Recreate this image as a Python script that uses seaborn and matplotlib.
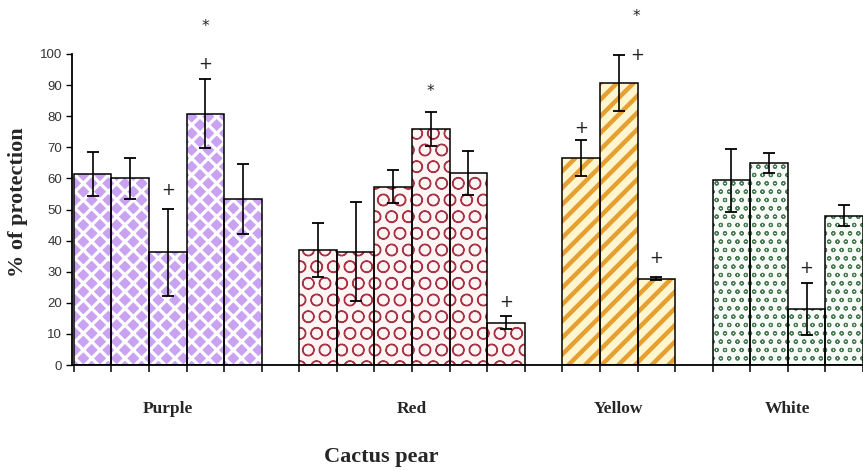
import matplotlib
matplotlib.use("Agg")
import matplotlib.pyplot as plt
import seaborn as sns
import numpy as np
import pandas as pd

# ---- data ----
groups = ["Purple", "Red", "Yellow", "White"]
purple_vals = [61.4, 60.0, 36.2, 80.8, 53.4]
purple_err = [7.2, 6.7, 14.0, 11.1, 11.2]
red_vals = [37.0, 36.4, 57.3, 75.9, 61.8, 13.6]
red_err = [8.8, 15.9, 5.3, 5.4, 7.0, 2.0]
yellow_vals = [66.5, 90.7, 27.8]
yellow_err = [5.7, 9.0, 0.4]
white_vals = [59.4, 65.0, 18.0, 48.0]
white_err = [10.2, 3.2, 8.4, 3.3]
yticks = [0, 10, 20, 30, 40, 50, 60, 70, 80, 90, 100]
# significance marks: (group, bar index, symbol, y, x-offset in bar widths)
marks = [
    ("Purple", 2, "+", 56.3, 0.0),
    ("Purple", 3, "+", 96.8, 0.0),
    ("Purple", 3, "*", 108.7, 0.0),
    ("Red", 3, "*", 87.9, 0.0),
    ("Red", 5, "+", 20.4, 0.0),
    ("Yellow", 0, "+", 76.3, 0.0),
    ("Yellow", 1, "+", 99.7, 0.48),
    ("Yellow", 1, "*", 112.0, 0.48),
    ("Yellow", 2, "+", 34.5, 0.0),
    ("White", 2, "+", 31.1, 0.0),
]

vals_by_group = {"Purple": purple_vals, "Red": red_vals,
                 "Yellow": yellow_vals, "White": white_vals}
errs_by_group = {"Purple": purple_err, "Red": red_err,
                 "Yellow": yellow_err, "White": white_err}

# positions: consecutive bars, one empty slot between groups
rows = []
start = 0
group_start = {}
for g in groups:
    group_start[g] = start
    for i, (v, e) in enumerate(zip(vals_by_group[g], errs_by_group[g])):
        rows.append({"pos": start + i, "value": v, "err": e, "group": g})
    start += len(vals_by_group[g]) + 1
df = pd.DataFrame(rows)

styles = {
    "Purple": dict(face="#C9A2F2", hatch="xx", hcol="white", hlw=2.3),
    "Red": dict(face="#FFF5F5", hatch="O", hcol="#A83345", hlw=0.9),
    "Yellow": dict(face="#FFF6CF", hatch="//", hcol="#E6A032", hlw=3.2),
    "White": dict(face="#F8FCF8", hatch="oo", hcol="#4B7B55", hlw=0.8),
}

sns.set_style("white")
plt.rcParams["font.family"] = ["Liberation Sans", "DejaVu Sans"]

fig = plt.figure(figsize=(8.63, 4.70), dpi=100)
ax = fig.add_axes([72 / 863, 1 - 365 / 470, 1 - 72 / 863, (365 - 54) / 470])

# pattern layer
sns.barplot(data=df, x="pos", y="value", native_scale=True, width=1.0,
            errorbar=None, color="white", ax=ax, zorder=1)
bars = list(ax.patches)
for p, g in zip(bars, df["group"]):
    st = styles[g]
    p.set_facecolor(st["face"])
    p.set_edgecolor(st["hcol"])
    p.set_linewidth(0)
    p.set_hatch(st["hatch"])
    if hasattr(p, "set_hatch_linewidth"):
        p.set_hatch_linewidth(st["hlw"])

# outline layer
sns.barplot(data=df, x="pos", y="value", native_scale=True, width=1.0,
            errorbar=None, fill=False, color="black", linewidth=1.1, ax=ax)
for p in ax.patches[len(bars):]:
    p.set_edgecolor("black")
    p.set_zorder(2)

ax.errorbar(df["pos"], df["value"], yerr=df["err"], fmt="none",
            ecolor="black", elinewidth=1.2, capsize=4, capthick=1.3, zorder=3)

# significance marks
for g, i, sym, y, dx in marks:
    x = group_start[g] + i + dx
    ax.text(x, y, sym, ha="center", va="center", fontsize=12 if sym == "+" else 11,
            color="#222222", clip_on=False, family="DejaVu Sans")

ax.set_ylim(0, 100)
ax.set_xlim(-0.55, 20.26)
ax.set_yticks(yticks)
ax.set_yticklabels([str(t) for t in yticks], fontsize=9.5, color="#333333")
edges = sorted(set(np.concatenate([df["pos"] - 0.5, df["pos"] + 0.5])))
ax.set_xticks(edges)
ax.set_xticklabels([""] * len(edges))
ax.tick_params(axis="x", direction="out", length=5, width=1.1, color="black", bottom=True)
ax.tick_params(axis="y", direction="out", length=4, width=1.0, color="black", left=True, pad=3)
for s in ["top", "right"]:
    ax.spines[s].set_visible(False)
for s in ["left", "bottom"]:
    ax.spines[s].set_color("black")
    ax.spines[s].set_linewidth(1.3)
ax.set_xlabel("")
ax.set_ylabel("% of protection", family=["Liberation Serif"], fontweight="bold",
              fontsize=16)
ax.yaxis.set_label_coords(-44 / 791, (365 - 202) / 311)

for g in groups:
    n = len(vals_by_group[g])
    cx = group_start[g] + (n - 1) / 2
    ax.text(cx, -14, g, ha="center", va="center", fontsize=12.5,
            fontweight="bold", family=["Liberation Serif"], transform=ax.transData,
            clip_on=False)

fig.text(381 / 863, 1 - 457 / 470, "Cactus pear", ha="center", va="center",
         fontsize=16, fontweight="bold", family=["Liberation Serif"])

fig.savefig("out.png", dpi=100)
